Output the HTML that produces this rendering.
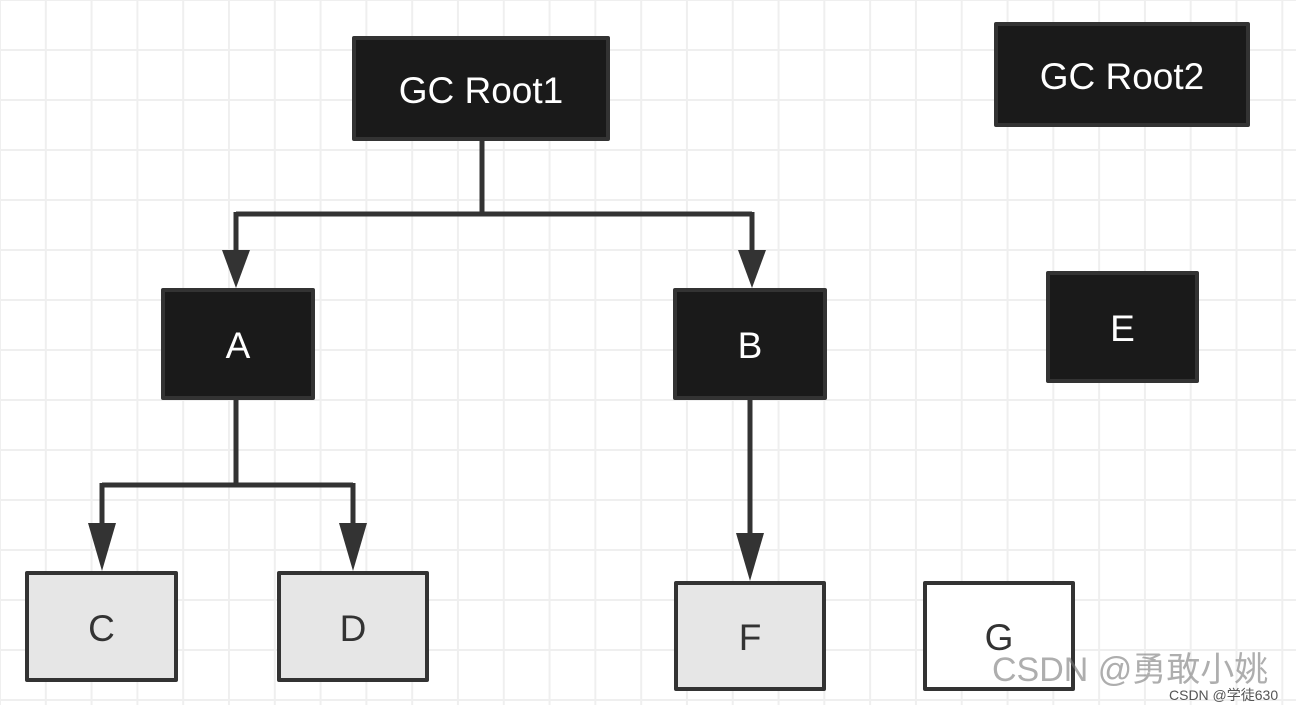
<!DOCTYPE html>
<html><head><meta charset="utf-8"><style>
html,body{margin:0;padding:0}
body{width:1296px;height:712px;position:relative;overflow:hidden;background:#fff;
background-image:linear-gradient(to right,#efefef 2px,transparent 2px),linear-gradient(to bottom,#efefef 2px,transparent 2px);
background-size:45.8px 100%,100% 50px;background-position:-1px 0,0 -1px;font-family:"Liberation Sans",sans-serif}
.b{position:absolute;box-sizing:border-box;border:4px solid #333;display:flex;align-items:center;justify-content:center;font-size:37px;padding-top:4px;border-radius:2px}
.d{background:#1a1a1a;color:#fff}
.l{background:#e6e6e6;color:#333}
.w{background:#fff;color:#333}
svg{position:absolute;left:0;top:0}
.wm{position:absolute;font-family:"Liberation Sans","Noto Sans CJK SC",sans-serif;color:rgba(120,120,120,0.6)}
</style></head><body>
<div style="position:absolute;left:0;top:705px;width:1296px;height:7px;background:#fff"></div>
<svg width="1296" height="712">
<g stroke="#333" stroke-width="5" fill="none">
<path d="M482 141 V214 M236 214 H752 M236 212 V255 M752 212 V255"/>
<path d="M236 400 V485 M102 485 H353 M102 483 V525 M353 483 V525"/>
<path d="M750 400 V540"/>
</g>
<g fill="#333">
<polygon points="222,250 250,250 236,288"/>
<polygon points="738,250 766,250 752,288"/>
<polygon points="88,523 116,523 102,571"/>
<polygon points="339,523 367,523 353,571"/>
<polygon points="736,533 764,533 750,581"/>
</g>
</svg>
<div class="b d" style="left:352px;top:36px;width:258px;height:105px">GC Root1</div>
<div class="b d" style="left:994px;top:22px;width:256px;height:105px">GC Root2</div>
<div class="b d" style="left:161px;top:288px;width:154px;height:112px">A</div>
<div class="b d" style="left:673px;top:288px;width:154px;height:112px">B</div>
<div class="b d" style="left:1046px;top:271px;width:153px;height:112px">E</div>
<div class="b l" style="left:25px;top:571px;width:153px;height:111px">C</div>
<div class="b l" style="left:277px;top:571px;width:152px;height:111px">D</div>
<div class="b l" style="left:674px;top:581px;width:152px;height:110px">F</div>
<div class="b w" style="left:923px;top:581px;width:152px;height:110px">G</div>
<div class="wm" style="left:992px;top:650px;font-size:34px;line-height:40px">CSDN @勇敢小姚</div>
<div class="wm" style="left:1169px;top:686px;font-size:14px;line-height:18px;color:#555">CSDN @学徒630</div>
</body></html>
